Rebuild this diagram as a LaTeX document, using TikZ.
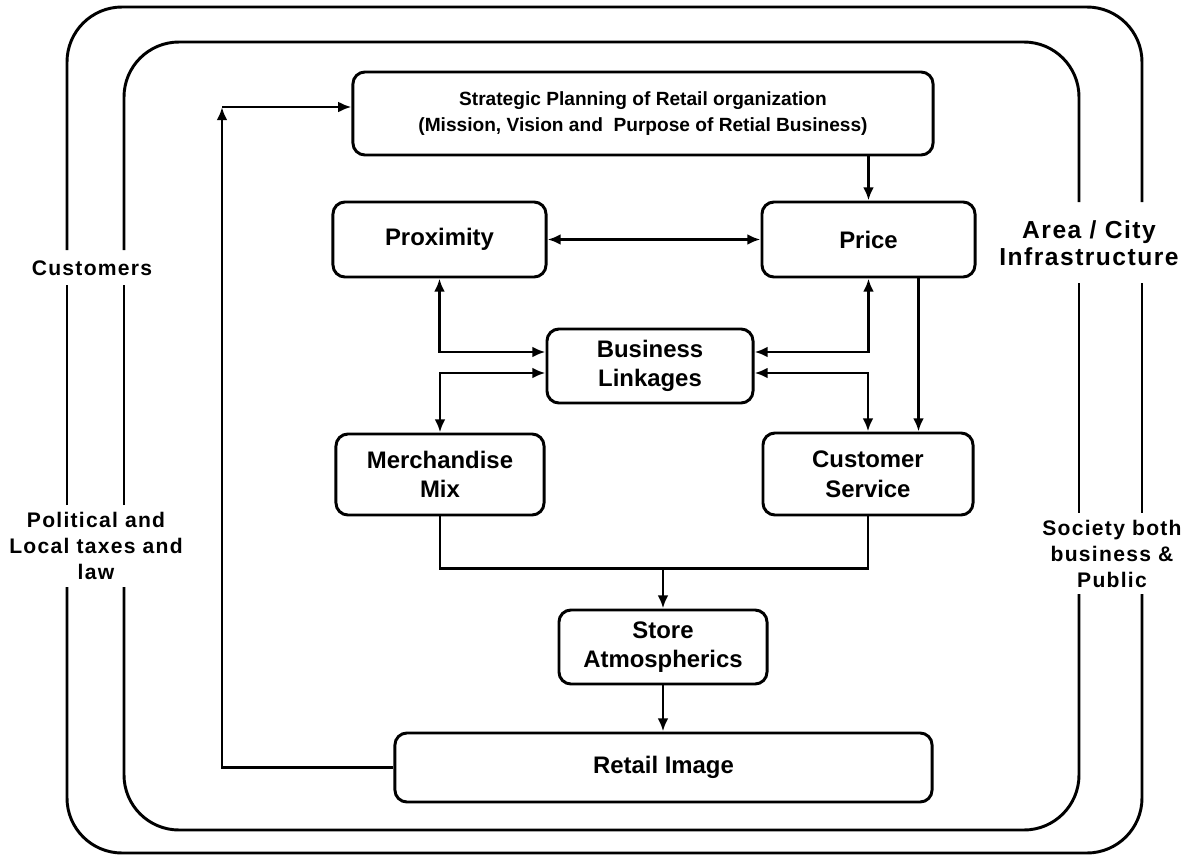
\documentclass[tikz,border=0pt]{standalone}
\usepackage{fontspec}
\setmainfont{Liberation Sans}
\newfontfamily\sidefont[LetterSpace=6]{Liberation Sans}
\usetikzlibrary{arrows.meta, positioning}

\tikzset{
  block/.style={draw, line width=2.1pt, rounded corners=0.3cm, align=center, inner sep=0pt,
    font=\fontsize{17}{21}\selectfont\bfseries},
  side/.style={align=center, font=\sidefont\fontsize{15}{18.5}\selectfont\bfseries},
  frame/.style={line width=2.1pt, rounded corners=1.375cm},
  tip/.tip={Latex[length=0.33cm,width=0.27cm]},
  link/.style={line width=2.1pt, -tip},
  link2/.style={line width=2.1pt, tip-tip}
}

\begin{document}
\begin{tikzpicture}[x=0.025cm, y=-0.025cm]

\useasboundingbox (0,0) rectangle (1192,856);

% two frames with openings for the labels
\foreach \l/\r/\t/\b in {124/1079/42/830, 67/1142/7/853} {
  \draw[frame] (\l,250) -- (\l,\t) -- (\r,\t) -- (\r,202);
  \draw[frame] (\r,283) -- (\r,513);
  \draw[frame] (\r,594) -- (\r,\b) -- (\l,\b) -- (\l,587);
  \draw[frame] (\l,505) -- (\l,285);
}

\node[side] (customers) at (92,268) {Customers};
\node[side] (political) at (96,546) {Political and\\Local taxes and\\law};
\node[side, font=\sidefont\fontsize{17.5}{19}\selectfont\bfseries] (area) at (1089,243) {Area / City\\Infrastructure};
\node[side] (society) at (1112,554) {Society both\\business \&\\Public};

% boxes
\node[block, minimum width=14.5cm, minimum height=2.075cm, font=\fontsize{13.6}{18.5}\selectfont\bfseries]
  (strategic) at (643,113.5) {Strategic Planning of Retail organization\\(Mission, Vision and~ Purpose of Retial Business)};
\node[block, minimum width=5.325cm, minimum height=1.875cm] (proximity) at (439.5,239.5) {Proximity};
\node[block, minimum width=5.325cm, minimum height=1.875cm] (price) at (868.5,239.5) {Price};
\node[block, minimum width=5.15cm, minimum height=1.85cm] (linkages) at (650,366) {Business\\Linkages};
\node[block, minimum width=5.2cm, minimum height=2.025cm] (merch) at (440,474.5) {Merchandise\\Mix};
\node[block, minimum width=5.25cm, minimum height=2.05cm] (custserv) at (868,474) {Customer\\Service};
\node[block, minimum width=5.2cm, minimum height=1.85cm] (store) at (663,647) {Store\\Atmospherics};
\node[block, minimum width=13.425cm, minimum height=1.725cm] (retail) at (663.5,767.5) {Retail Image};

% connectors
\draw[link] (strategic.south -| price.north) -- (price.north);
\draw[link2] (proximity) -- (price);
\draw[link2] (proximity.south) |- ([yshift=0.35cm]linkages.west);
\draw[link2] (merch.north) |- ([yshift=-0.175cm]linkages.west);
\draw[link2] (price.south) |- ([yshift=0.35cm]linkages.east);
\draw[link2] (custserv.north) |- ([yshift=-0.175cm]linkages.east);
\draw[link] ([xshift=1.25cm]price.south) -- ([xshift=1.25cm]price.south |- custserv.north);

\coordinate (join) at ([yshift=-1.3cm]merch.south);
\draw[line width=2.1pt] (merch.south) -- (join) -| (custserv.south);
\draw[link] (join -| store.north) -- (store.north);
\draw[link] (store.south) -- (store.south |- retail.north);

\coordinate (turn) at (222,107);
\draw[link] (retail.west) -| (turn);
\draw[link] (turn) -- (turn -| strategic.west);

\end{tikzpicture}
\end{document}
